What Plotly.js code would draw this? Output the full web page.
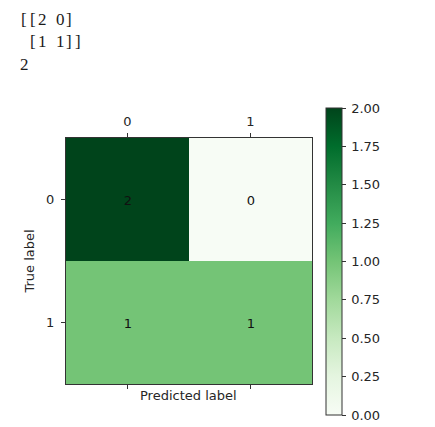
<!DOCTYPE html>
<html>
<head>
<meta charset="utf-8">
<script src="https://cdn.plot.ly/plotly-3.0.1.min.js"></script>
<style>html,body{margin:0;padding:0;background:#fff;}#chart{width:435px;height:427px;}</style>
</head>
<body>
<div id="chart"></div>
<script>
// Data
const predictedLabels = [0, 1];
const trueLabels = [0, 1];
const matrixValues = [[2, 0], [1, 1]];
const printedLines = ["[[2 0]", " [1 1]]", "2"];
const colorbarTicks = [0, 0.25, 0.5, 0.75, 1.0, 1.25, 1.5, 1.75, 2.0];

// Layout constants for the printed (monospaced) text
const textLeft = 19.5, textCell = 9;
const printedLineY = [19.5, 41.5, 65];

const greens = [
  [0.0, '#f7fcf5'], [0.125, '#e5f5e0'], [0.25, '#c7e9c0'], [0.375, '#a1d99b'],
  [0.5, '#74c476'], [0.625, '#41ab5d'], [0.75, '#238b45'], [0.875, '#006d2c'], [1.0, '#00441b']
];

const W = 435, H = 427;
const px = v => v / W;
const py = v => 1 - v / H;
const txt = '#262626';
const tickFont = {family: 'DejaVu Sans', size: 13, color: txt};

const trace = {
  type: 'heatmap',
  z: matrixValues,
  x: predictedLabels,
  y: trueLabels,
  colorscale: greens,
  zmin: 0, zmax: 2,
  texttemplate: '%{z}',
  textfont: {family: 'DejaVu Sans', size: 13, color: '#111'},
  hoverinfo: 'skip',
  colorbar: {
    thickness: 16, thicknessmode: 'pixels',
    len: 307, lenmode: 'pixels',
    x: px(326), xanchor: 'left', xpad: 0,
    y: py(108), yanchor: 'top', ypad: 0,
    outlinecolor: '#333', outlinewidth: 1,
    ticks: 'outside', ticklen: 4, tickwidth: 1, tickcolor: '#333',
    tickvals: colorbarTicks,
    ticktext: colorbarTicks.map(v => '\u2009' + v.toFixed(2)),
    tickfont: tickFont
  }
};

const annotations = [];
printedLines.forEach((line, li) => {
  [...line].forEach((ch, ci) => {
    if (ch === ' ') return;
    annotations.push({
      xref: 'paper', yref: 'paper',
      x: px(textLeft + textCell * (ci + 0.5)), y: py(printedLineY[li]),
      xanchor: 'center', yanchor: 'middle', showarrow: false,
      text: ch,
      font: {family: 'Liberation Serif', size: 17, color: '#1a1a1a'}
    });
  });
});
annotations.push({
  xref: 'paper', yref: 'paper', x: px(188), y: py(395),
  xanchor: 'center', yanchor: 'middle', showarrow: false,
  text: 'Predicted label', font: tickFont
});

const layout = {
  width: W, height: H,
  margin: {l: 0, r: 0, t: 0, b: 0},
  paper_bgcolor: '#fff', plot_bgcolor: '#fff',
  showlegend: false,
  font: {family: 'DejaVu Sans', size: 13, color: txt},
  xaxis: {
    domain: [px(66), px(312)],
    range: [-0.5, 1.5],
    side: 'top',
    tickvals: predictedLabels,
    ticktext: predictedLabels.map(String),
    ticks: 'outside', ticklen: 4, tickwidth: 1, tickcolor: '#333',
    ticklabelstandoff: 2,
    showline: true, linecolor: '#333', linewidth: 1, mirror: 'ticks',
    showgrid: false, zeroline: false,
    tickfont: tickFont, fixedrange: true
  },
  yaxis: {
    domain: [py(384), py(138)],
    range: [1.5, -0.5],
    tickvals: trueLabels,
    ticktext: trueLabels.map(String),
    ticks: 'outside', ticklen: 4, tickwidth: 1, tickcolor: '#333',
    ticklabelstandoff: 4,
    showline: true, linecolor: '#333', linewidth: 1, mirror: true,
    showgrid: false, zeroline: false,
    tickfont: tickFont, fixedrange: true,
    title: {text: 'True label', font: tickFont, standoff: 8}
  },
  annotations: annotations
};

Plotly.newPlot('chart', [trace], layout, {displayModeBar: false, staticPlot: true});
</script>
</body>
</html>
